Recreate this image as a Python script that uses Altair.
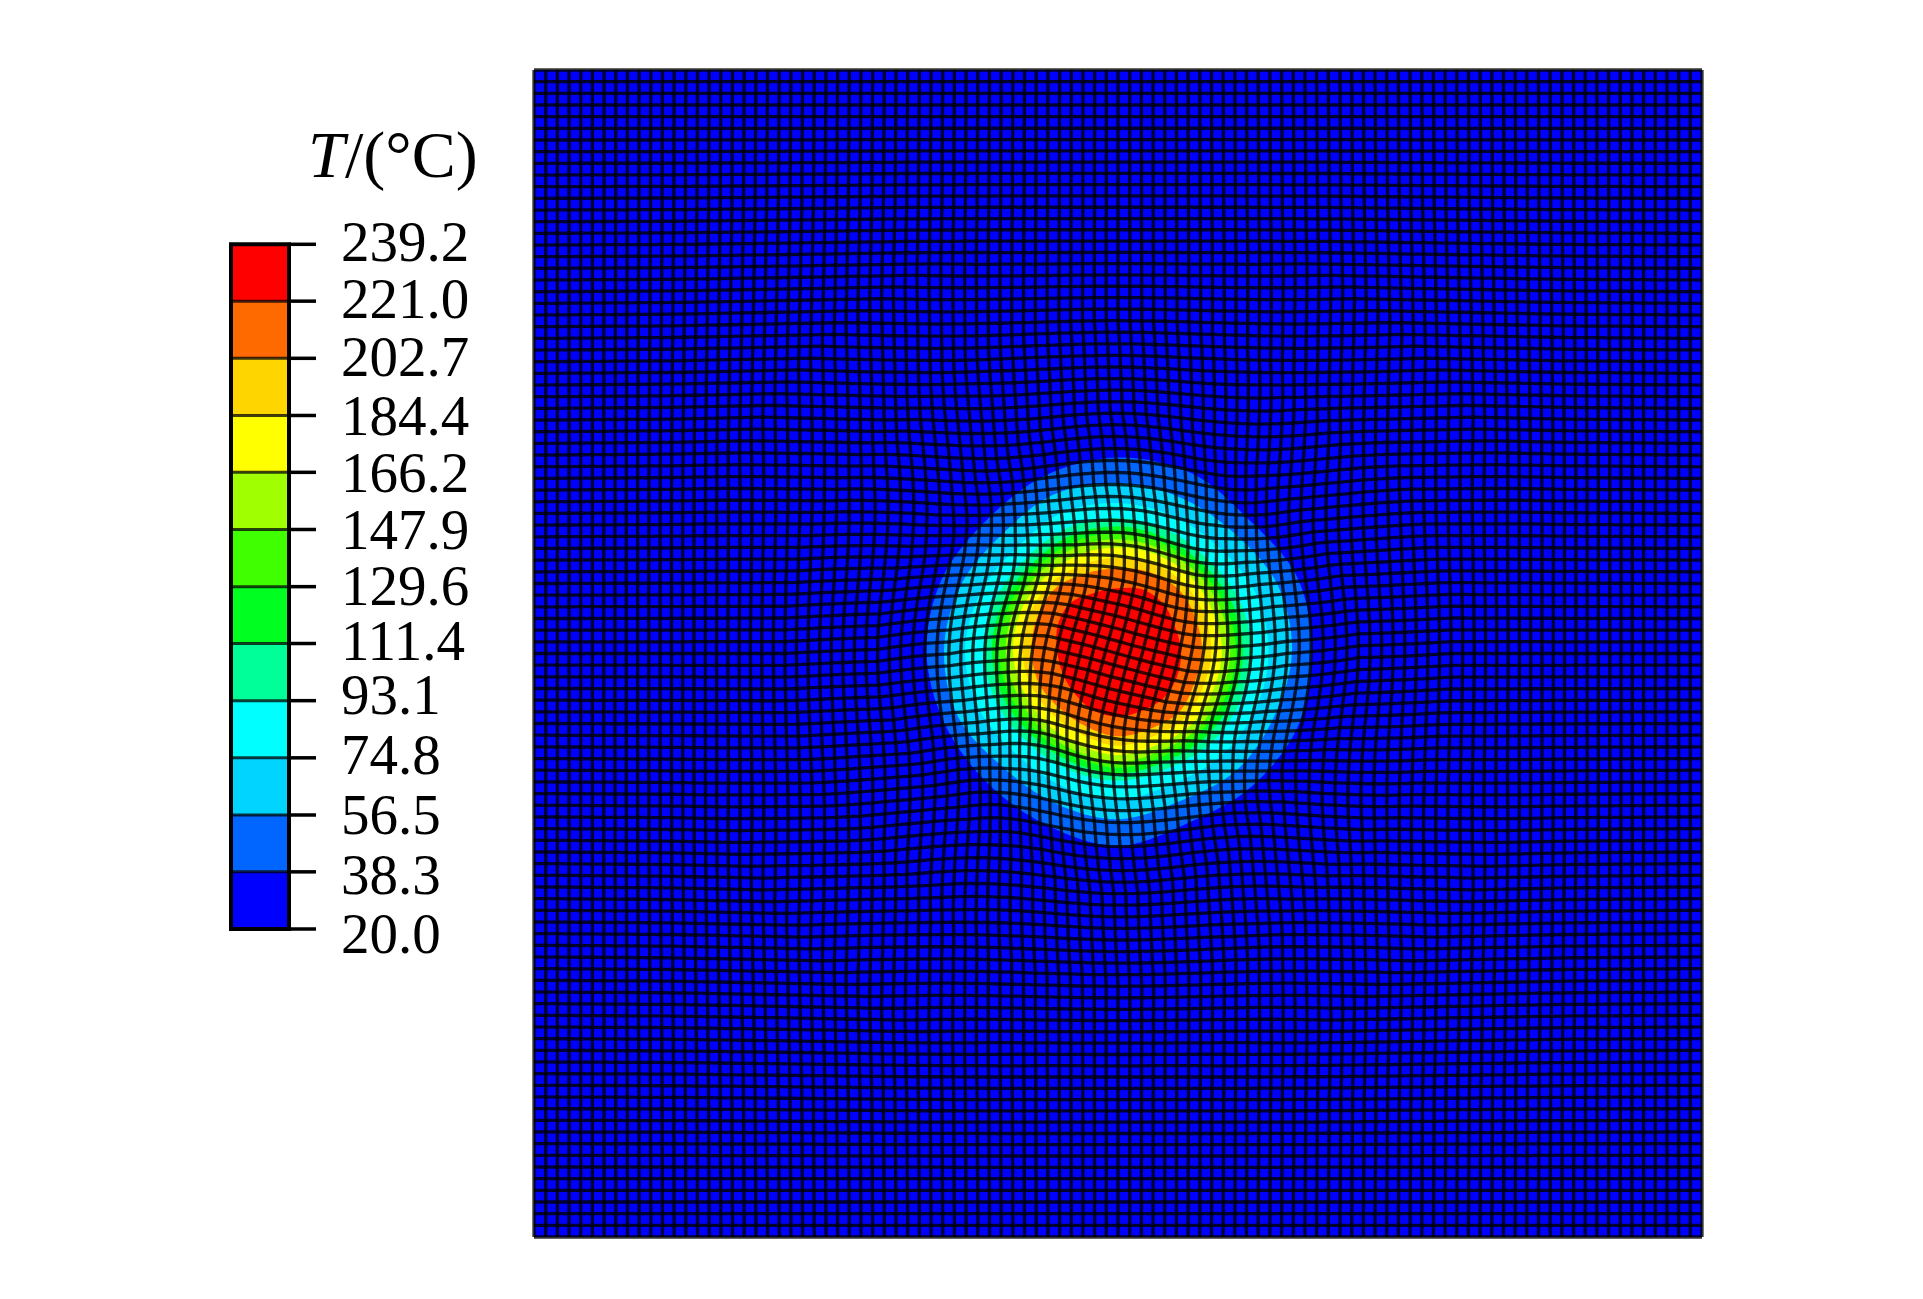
import math
import altair as alt
import numpy as np
import pandas as pd

# Legend
LEGEND_TICKS = [239.2, 221.0, 202.7, 184.4, 166.2, 147.9, 129.6, 111.4, 93.1, 74.8, 56.5, 38.3, 20.0]
LEGEND_TEXT = ["239.2", "221.0", "202.7", "184.4", "166.2", "147.9", "129.6", "111.4", "93.1", "74.8", "56.5", "38.3", "20.0"]
BAND_COLORS = ["#ff0000", "#ff6a00", "#ffd500", "#ffff00", "#a0ff00", "#40ff00", "#00ff20",
               "#00ff99", "#00ffff", "#00d4ff", "#0066ff", "#0000ff"]

# Contour radii (mesh cells) read at 16 compass bearings, E then counter-clockwise
CENTER = (50.0, 50.2)
CONTOURS = {
    38.3: [16.6,16.6,15.9,16.5,16.6,16.3,15.9,16.3,16.4,16.1,15.9,16.1,16.7,15.9,16.3,16.7],
    56.5: [14.9,14.8,14.2,14.2,14.4,14.5,14.1,14.6,14.9,14.8,14.0,14.1,14.4,13.9,14.4,14.5],
    74.8: [12.9,12.8,12.4,12.5,12.7,12.8,12.4,12.8,13.1,12.9,12.4,12.5,12.7,12.3,12.6,12.8],
    93.1: [11.4,11.3,11.0,11.2,11.4,11.4,11.2,11.4,11.5,11.3,11.0,11.0,11.1,10.9,11.2,11.3],
    111.4: [10.7,10.6,10.4,10.5,10.7,10.7,10.5,10.7,10.8,10.6,10.3,10.3,10.5,10.3,10.5,10.6],
    129.6: [10.1,10.0,9.9,10.0,10.1,10.1,10.0,10.1,10.2,10.0,9.8,9.8,10.0,9.8,9.9,10.0],
    147.9: [9.6,9.5,9.5,9.5,9.6,9.6,9.5,9.6,9.6,9.4,9.3,9.3,9.5,9.3,9.5,9.5],
    166.2: [8.9,8.8,8.9,8.9,8.9,8.9,8.9,9.0,9.0,8.8,8.7,8.7,8.9,8.7,8.9,8.8],
    184.4: [8.0,8.0,8.1,8.1,8.0,8.0,8.2,8.2,8.2,8.0,7.8,7.8,8.1,7.9,8.1,7.9],
    202.7: [7.2,7.2,7.4,7.3,7.1,7.2,7.6,7.5,7.4,7.3,7.0,7.0,7.3,7.2,7.4,7.1],
    221.0: [5.4,5.3,5.6,5.7,5.4,5.4,5.8,5.6,5.2,5.1,5.2,5.5,5.6,5.5,5.6,5.5],
}

# Mesh distortion, in mesh cells / degrees
MESH_LINES = list(range(101))
TWIST_R = [0, 6, 10, 14, 20, 28]
TWIST_DEG = [16, 14, 8, 4, 1, 0]
ROUND_R = [0, 6, 10, 18, 26, 36]
ROUND_W = [0, 0.1, 0.3, 0.3, 0.1, 0]
FAN_S = [0, 5, 10, 18, 30, 45]
FAN_AMP = [0, 0.15, 0.35, 0.6, 0.5, 0]
FALL_S = [0, 10, 18, 28, 38, 50]
FALL_K = [1, 1, 0.9, 0.5, 0.15, 0]

PANEL_H = 1167
PLOT_W = 1168
LEG_W = 524
leg_y = alt.Y("v:Q", scale=alt.Scale(domain=[-78.6, 295.0]), axis=None)
leg_x = alt.Scale(domain=[0, LEG_W])
BAR_L, BAR_R = 223, 281

# ---------- legend ----------
boxes = pd.DataFrame({"v": LEGEND_TICKS[:-1], "v2": LEGEND_TICKS[1:], "c": BAND_COLORS})
ticks = pd.DataFrame({"v": LEGEND_TICKS, "t": LEGEND_TEXT})
layers = [
    alt.Chart(boxes).mark_rect().encode(
        x=alt.X(datum=BAR_L, scale=leg_x, axis=None), x2=alt.X2(datum=BAR_R),
        y=leg_y, y2="v2:Q", color=alt.Color("c:N", scale=None)),
    alt.Chart(ticks.iloc[1:-1]).mark_rule(color="black", opacity=0.75, strokeWidth=3).encode(
        x=alt.X(datum=BAR_L, scale=leg_x, axis=None), x2=alt.X2(datum=BAR_R), y=leg_y),
    alt.Chart(pd.DataFrame({"v": [LEGEND_TICKS[0]], "v2": [LEGEND_TICKS[-1]]})).mark_rect(
        fillOpacity=0, stroke="black", strokeWidth=4).encode(
        x=alt.X(datum=BAR_L, scale=leg_x, axis=None), x2=alt.X2(datum=BAR_R), y=leg_y, y2="v2:Q"),
    alt.Chart(ticks).mark_rule(color="black", strokeWidth=3.5).encode(
        x=alt.X(datum=BAR_R, scale=leg_x, axis=None), x2=alt.X2(datum=308), y=leg_y),
]
LABEL_DY = [17, 17, 18, 20, 20, 20, 18, 16, 13, 16, 19, 22, 24]
for v, t, d in zip(LEGEND_TICKS, LEGEND_TEXT, LABEL_DY):
    layers.append(
        alt.Chart(pd.DataFrame({"v": [v], "t": [t]})).mark_text(
            font="Liberation Serif", fontSize=57, align="left", baseline="alphabetic", dy=d, color="black"
        ).encode(x=alt.X(datum=333, scale=leg_x, axis=None), y=leg_y, text="t:N"))
TITLE_V = 260.8
layers.append(alt.Chart(pd.DataFrame({"v": [TITLE_V], "t": ["T"]})).mark_text(
    font="Liberation Serif", fontStyle="italic", fontSize=66, align="left", baseline="alphabetic", color="black"
).encode(x=alt.X(datum=300, scale=leg_x, axis=None), y=leg_y, text="t:N"))
layers.append(alt.Chart(pd.DataFrame({"v": [TITLE_V], "t": ["/(°C)"]})).mark_text(
    font="Liberation Serif", fontSize=66, align="left", baseline="alphabetic", color="black"
).encode(x=alt.X(datum=337, scale=leg_x, axis=None), y=leg_y, text="t:N"))
legend = alt.layer(*layers).properties(width=LEG_W, height=PANEL_H)

# ---------- field ----------
sx = alt.Scale(domain=[0, 100], nice=False, zero=False)
sy = alt.Scale(domain=[0, 100], nice=False, zero=False)
field_layers = [
    alt.Chart(pd.DataFrame({"x": [0], "x2": [100], "y": [0], "y2": [100]})).mark_rect(color="#0000ff").encode(
        x=alt.X("x:Q", scale=sx, axis=None), x2="x2:Q",
        y=alt.Y("y:Q", scale=sy, axis=None), y2="y2:Q"),
]
for (level, radii), col in zip(CONTOURS.items(), BAND_COLORS[::-1][1:]):
    n = len(radii)
    pts = pd.DataFrame({
        "x": [CENTER[0] + r * math.cos(2 * math.pi * i / n) for i, r in enumerate(radii)],
        "y": [CENTER[1] + r * math.sin(2 * math.pi * i / n) for i, r in enumerate(radii)],
        "o": list(range(n)),
    })
    field_layers.append(
        alt.Chart(pts).mark_line(fill=col, stroke=col, strokeWidth=0, interpolate="cardinal-closed").encode(
            x=alt.X("x:Q", scale=sx, axis=None), y=alt.Y("y:Q", scale=sy, axis=None), order="o:Q"))


def node(i, j):
    u, v = i - CENTER[0], j - CENTER[1]
    h = math.hypot(u, v) or 1.0
    # diagonal nodes drawn in, so that square rings round off around the hot spot
    w = float(np.interp(h, ROUND_R, ROUND_W))
    f = 1 - w * 0.293 * 4 * u * u * v * v / h ** 4
    du = np.sign(u) * np.interp(abs(u), FAN_S, FAN_AMP) * np.interp(abs(v), FALL_S, FALL_K)
    dv = np.sign(v) * np.interp(abs(v), FAN_S, FAN_AMP) * np.interp(abs(u), FALL_S, FALL_K)
    a, b = u * f + du, v * f + dv
    t = math.radians(np.interp(h, TWIST_R, TWIST_DEG))
    return (float(CENTER[0] + a * math.cos(t) + b * math.sin(t)),
            float(CENTER[1] - a * math.sin(t) + b * math.cos(t)))


rows = []
for k in MESH_LINES:
    for m in MESH_LINES:
        x, y = node(m, k)
        rows.append({"x": round(x, 2), "y": round(y, 2), "line": f"h{k}", "o": m})
        x, y = node(k, m)
        rows.append({"x": round(x, 2), "y": round(y, 2), "line": f"v{k}", "o": m})
field_layers.append(
    alt.Chart(pd.DataFrame(rows)).mark_line(color="black", opacity=0.8, strokeWidth=3.3, strokeJoin="round").encode(
        x=alt.X("x:Q", scale=sx, axis=None), y=alt.Y("y:Q", scale=sy, axis=None),
        detail="line:N", order="o:Q"))
field = alt.layer(*field_layers).properties(width=PLOT_W, height=PANEL_H)

chart = alt.hconcat(legend, field, spacing=0).properties(
    padding={"left": 0, "top": 60, "right": 0, "bottom": 0}
).configure_view(stroke=None)
alt.data_transformers.disable_max_rows()
chart.save("out.html", embed_options={"renderer": "svg", "actions": False})
